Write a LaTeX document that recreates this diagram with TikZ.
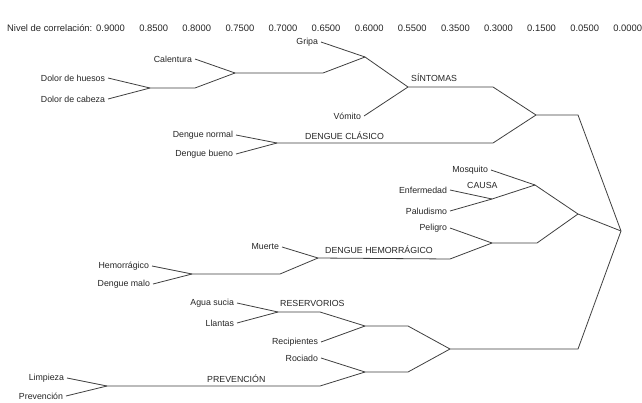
\documentclass[tikz,border=0pt]{standalone}
\usepackage{fontspec}
\setmainfont{Liberation Sans}
\begin{document}
\begin{tikzpicture}[x=1pt,y=-1pt,
  every node/.style={font=\fontsize{8.8}{10}\selectfont, text=black!85},
  leaf/.style={anchor=east, inner sep=0pt, outer xsep=3pt},
  grp/.style={anchor=west, inner sep=0pt},
  hdr/.style={anchor=west, inner sep=0pt, font=\fontsize{9.4}{11}\selectfont},
  link/.style={draw=black!75, line width=0.8pt}]
\useasboundingbox[fill=white] (0,0) rectangle (642,402);
% header
\node[hdr] (h0) at (7,28) {Nivel de correlación:};
\foreach \v [count=\i from 0] in {0.9000,0.8500,0.8000,0.7500,0.7000,0.6500,0.6000,0.5500,0.3500,0.3000,0.1500,0.0500,0.0000}
  \node[hdr] (hv\i) at (96+43.1*\i,28) {\v};
% leaves
\node[leaf] (gripa) at (321,42) {Gripa};
\node[leaf] (calentura) at (195,59) {Calentura};
\node[leaf] (huesos) at (108,78) {Dolor de huesos};
\node[leaf] (cabeza) at (108,99) {Dolor de cabeza};
\node[leaf] (vomito) at (364,116) {Vómito};
\node[leaf] (dnormal) at (236,135) {Dengue normal};
\node[leaf] (dbueno) at (236,154) {Dengue bueno};
\node[leaf] (mosquito) at (491,170) {Mosquito};
\node[leaf] (enfermedad) at (450,190) {Enfermedad};
\node[leaf] (paludismo) at (450,211) {Paludismo};
\node[leaf] (peligro) at (450,228) {Peligro};
\node[leaf] (muerte) at (282,247) {Muerte};
\node[leaf] (hemorragico) at (152,266) {Hemorrágico};
\node[leaf] (dmalo) at (153,284) {Dengue malo};
\node[leaf] (agua) at (237,303) {Agua sucia};
\node[leaf] (llantas) at (237,323) {Llantas};
\node[leaf] (recipientes) at (321,342) {Recipientes};
\node[leaf] (rociado) at (321,358) {Rociado};
\node[leaf] (limpieza) at (67,378) {Limpieza};
\node[leaf] (prevencion) at (66,396) {Prevención};
% group labels
\node[grp] (gsint) at (411,78) {SÍNTOMAS};
\node[grp] (gdc) at (305,136) {DENGUE CLÁSICO};
\node[grp] (gcausa) at (467,185) {CAUSA};
\node[grp] (gdh) at (325,250) {DENGUE HEMORRÁGICO};
\node[grp] (gres) at (280,303) {RESERVORIOS};
\node[grp] (gprev) at (207,379) {PREVENCIÓN};
% junctions
\coordinate (j1) at (365,57);
\coordinate (jcal) at (235,73);
\coordinate (jdolor) at (150,88);
\coordinate (jsint) at (408,87);
\coordinate (jtop) at (536,115);
\coordinate (jdc) at (277,143);
\coordinate (jcausa) at (535,185);
\coordinate (jep) at (492,199);
\coordinate (jmid) at (578,214);
\coordinate (jpel) at (492,243);
\coordinate (jdh) at (318,258);
\coordinate (jhm) at (192,274);
\coordinate (jres) at (278,312);
\coordinate (jr1) at (365,326);
\coordinate (jr2) at (365,372);
\coordinate (jprev) at (107,386);
\coordinate (jbot) at (450,349);
\coordinate (root) at (621,231);
% connectors
\draw[link] (gripa.east) -- (j1);
\draw[link] (calentura.east) -- (jcal);
\draw[link] (huesos.east) -- (jdolor);
\draw[link] (cabeza.east) -- (jdolor);
\draw[link] (jdolor) -- (195,88) -- (jcal);
\draw[link] (jcal) -- (323,73) -- (j1);
\draw[link] (j1) -- (jsint);
\draw[link] (vomito.east) -- (jsint);
\draw[link] (jsint) -- (493,87) -- (jtop);
\draw[link] (dnormal.east) -- (jdc);
\draw[link] (dbueno.east) -- (jdc);
\draw[link] (jdc) -- (493,143) -- (jtop);
\draw[link] (jtop) -- (578,115) -- (root);
\draw[link] (mosquito.east) -- (jcausa);
\draw[link] (enfermedad.east) -- (jep);
\draw[link] (paludismo.east) -- (jep);
\draw[link] (jep) -- (jcausa);
\draw[link] (jcausa) -- (jmid);
\draw[link] (peligro.east) -- (jpel);
\draw[link] (muerte.east) -- (jdh);
\draw[link] (hemorragico.east) -- (jhm);
\draw[link] (dmalo.east) -- (jhm);
\draw[link] (jhm) -- (280,274) -- (jdh);
\draw[link] (jdh) -- (450,259) -- (jpel);
\draw[link] (jpel) -- (537,243) -- (jmid);
\draw[link] (jmid) -- (root);
\draw[link] (agua.east) -- (jres);
\draw[link] (llantas.east) -- (jres);
\draw[link] (jres) -- (320,312) -- (jr1);
\draw[link] (recipientes.east) -- (jr1);
\draw[link] (rociado.east) -- (jr2);
\draw[link] (limpieza.east) -- (jprev);
\draw[link] (prevencion.east) -- (jprev);
\draw[link] (jprev) -- (320,386) -- (jr2);
\draw[link] (jr1) -- (408,326) -- (jbot);
\draw[link] (jr2) -- (408,372) -- (jbot);
\draw[link] (jbot) -- (578,349) -- (root);
\end{tikzpicture}
\end{document}
